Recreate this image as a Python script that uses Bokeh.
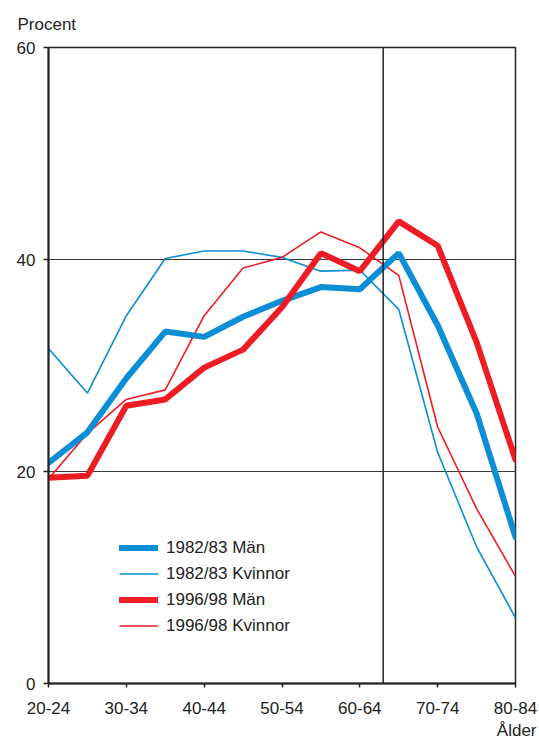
from bokeh.plotting import figure
from bokeh.models import Span, Legend, LegendItem, Title, FixedTicker
from bokeh.embed import file_html
from bokeh.resources import INLINE

ages = ["20-24", "25-29", "30-34", "35-39", "40-44", "45-49", "50-54",
        "55-59", "60-64", "65-69", "70-74", "75-79", "80-84"]
man_1982 = [20.8, 23.7, 28.8, 33.2, 32.7, 34.6, 36.1, 37.4, 37.2, 40.6, 33.8, 25.5, 13.8]
kvinnor_1982 = [31.6, 27.4, 34.7, 40.1, 40.8, 40.8, 40.2, 38.9, 39.0, 35.3, 21.8, 12.9, 6.2]
man_1996 = [19.4, 19.6, 26.2, 26.8, 29.8, 31.5, 35.5, 40.6, 38.9, 43.6, 41.3, 32.2, 21.1]
kvinnor_1996 = [19.3, 23.6, 26.8, 27.7, 34.7, 39.2, 40.2, 42.6, 41.1, 38.5, 24.2, 16.5, 10.1]
y_ticks = [0, 20, 40, 60]
pension_line = 8.6

x = list(range(len(ages)))
FONT = "Liberation Sans"
BLUE = "#0a8fd6"
RED = "#ee1c25"
DARK = "#222222"

p = figure(width=539, height=742, x_range=(0, len(ages) - 1), y_range=(0, 60),
           output_backend="svg", toolbar_location=None,
           min_border_left=48, min_border_right=24, min_border_top=47, min_border_bottom=59,
           title="Procent")
p.title.text_font = FONT
p.title.text_font_size = "17px"
p.title.text_font_style = "normal"
p.title.text_color = DARK
p.title.align = "left"
p.title.vertical_align = "top"
p.title.offset = -31
p.title.standoff = 23

p.outline_line_color = DARK
p.outline_line_width = 1.5
p.background_fill_color = "white"
p.border_fill_color = "white"

xt = list(range(0, len(ages), 2))
p.xaxis.ticker = FixedTicker(ticks=xt, minor_ticks=[])
p.xaxis.major_label_overrides = {i: ages[i] for i in xt}
p.yaxis.ticker = FixedTicker(ticks=y_ticks, minor_ticks=[])
for ax in (p.xaxis, p.yaxis):
    ax.axis_line_color = DARK
    ax.axis_line_width = 2
    ax.major_tick_line_color = DARK
    ax.major_tick_line_width = 1.5
    ax.major_tick_in = 0
    ax.minor_tick_line_color = None
    ax.major_label_text_font = FONT
    ax.major_label_text_font_size = "17px"
    ax.major_label_text_color = DARK
p.xaxis.major_tick_out = 4
p.yaxis.major_tick_out = 5
p.xaxis.major_label_standoff = 14
p.yaxis.major_label_standoff = 8

p.xgrid.visible = False
p.ygrid.ticker = FixedTicker(ticks=[20, 40])
p.ygrid.grid_line_color = "#3a3a3a"
p.ygrid.grid_line_width = 1

p.add_layout(Span(location=pension_line, dimension="height", line_color=DARK, line_width=1.5))

r_k82 = p.line(x, kvinnor_1982, line_color=BLUE, line_width=1.6)
r_k96 = p.line(x, kvinnor_1996, line_color=RED, line_width=1.6)
r_m82 = p.line(x, man_1982, line_color=BLUE, line_width=6, line_cap="round")
r_m96 = p.line(x, man_1996, line_color=RED, line_width=6, line_cap="round")

legend = Legend(items=[
    LegendItem(label="1982/83 Män", renderers=[r_m82]),
    LegendItem(label="1982/83 Kvinnor", renderers=[r_k82]),
    LegendItem(label="1996/98 Män", renderers=[r_m96]),
    LegendItem(label="1996/98 Kvinnor", renderers=[r_k96]),
], location=(71, 47), border_line_color=None, background_fill_alpha=0,
    glyph_width=39, glyph_height=21, label_height=21, label_standoff=8,
    spacing=5, padding=0, margin=0,
    label_text_font=FONT, label_text_font_size="17px", label_text_color=DARK)
p.add_layout(legend)

p.add_layout(Title(text="Ålder", align="right", offset=-21, standoff=4,
                   text_font=FONT, text_font_size="17px", text_font_style="normal",
                   text_color=DARK), "below")

open("out.html", "w").write(file_html(p, INLINE))
